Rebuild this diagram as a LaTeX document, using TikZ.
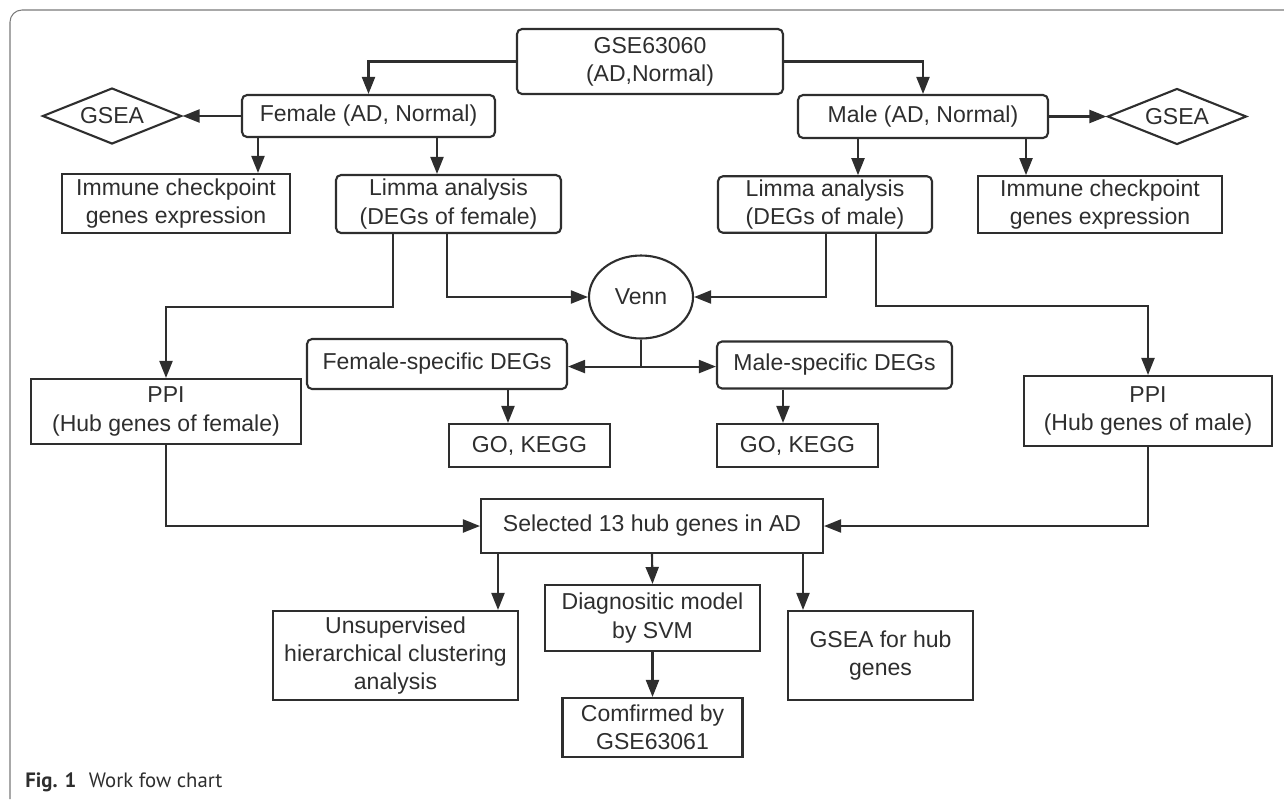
\documentclass[tikz,border=0pt]{standalone}
\usepackage{fontspec}
\setmainfont{Liberation Sans}
\newfontfamily\capfont{PT Sans}
\usetikzlibrary{shapes.geometric, arrows.meta, positioning}

\definecolor{inkgray}{HTML}{2E2E2E}
\definecolor{framegray}{HTML}{7A7A7A}

\begin{document}
\begin{tikzpicture}[
    x=0.02cm, y=-0.02cm,
    base/.style={draw=inkgray, line width=1.2pt, align=center, text=inkgray, inner sep=2pt, font=\fontsize{13.1}{16}\selectfont},
    box/.style={base, rectangle, rounded corners=0.1cm},
    sqbox/.style={base, rectangle},
    gsea/.style={base, diamond, aspect=2.5, minimum width=2.78cm, minimum height=1.12cm, inner sep=0pt},
    vennnode/.style={base, ellipse, minimum width=2.08cm, minimum height=1.66cm},
    arrow/.style={draw=inkgray, line width=1.2pt, -{Triangle[length=0.34cm, width=0.26cm]}},
    line/.style={draw=inkgray, line width=1.2pt}
]
\useasboundingbox (0,0) rectangle (1284,799);

% Frame
\draw[framegray, line width=0.6pt, rounded corners=0.24cm] (10,799) -- (10,10) -- (1284,10);

% Nodes
\node[box, minimum width=5.32cm, minimum height=1.3cm] (gse) at (650,61.5) {GSE63060\\(AD,Normal)};
\node[box, minimum width=5.06cm, minimum height=0.84cm] (female) at (368.5,116) {Female (AD, Normal)};
\node[box, minimum width=5.0cm, minimum height=0.86cm] (male) at (923,116.5) {Male (AD, Normal)};
\node[gsea] (gseaF) at (112,116) {GSEA};
\node[gsea] (gseaM) at (1177,116.5) {GSEA};
\node[sqbox, minimum width=4.56cm, minimum height=1.18cm] (immF) at (176,203.5) {Immune checkpoint\\genes expression};
\node[box, minimum width=4.5cm, minimum height=1.16cm] (limF) at (448.5,204) {Limma analysis\\(DEGs of female)};
\node[box, minimum width=4.28cm, minimum height=1.12cm] (limM) at (825,204.5) {Limma analysis\\(DEGs of male)};
\node[sqbox, minimum width=4.88cm, minimum height=1.12cm] (immM) at (1100,204.5) {Immune checkpoint\\genes expression};
\node[vennnode] (venn) at (641,297) {Venn};
\node[box, minimum width=5.2cm, minimum height=1.0cm] (fspec) at (437,364) {Female-specific DEGs};
\node[box, minimum width=4.7cm, minimum height=0.94cm] (mspec) at (834.5,365) {Male-specific DEGs};
\node[sqbox, minimum width=3.22cm, minimum height=0.86cm] (goF) at (529.5,445.5) {GO, KEGG};
\node[sqbox, minimum width=3.22cm, minimum height=0.86cm] (goM) at (797.5,445.5) {GO, KEGG};
\node[sqbox, minimum width=5.4cm, minimum height=1.3cm] (ppiF) at (166,411.5) {PPI\\(Hub genes of female)};
\node[sqbox, minimum width=4.96cm, minimum height=1.4cm] (ppiM) at (1148,411) {PPI\\(Hub genes of male)};
\node[sqbox, minimum width=6.84cm, minimum height=1.08cm] (sel) at (652,526) {Selected 13 hub genes in AD};
\node[sqbox, minimum width=4.9cm, minimum height=1.78cm] (unsup) at (395.5,655.5) {Unsupervised\\hierarchical clustering\\analysis};
\node[sqbox, minimum width=4.3cm, minimum height=1.32cm] (diag) at (652.5,618) {Diagnositic model\\by SVM};
\node[sqbox, minimum width=3.6cm, minimum height=1.18cm] (conf) at (652.5,727.5) {Comfirmed by\\GSE63061};
\node[sqbox, minimum width=3.7cm, minimum height=1.78cm] (gseaH) at (880.5,655.5) {GSEA for hub\\genes};

% Caption
\node[anchor=west, inner sep=0, text=inkgray, font=\capfont\fontsize{11.8}{14}\selectfont] (cap) at (25,782) {\textbf{Fig. 1}\hspace{0.6em}Work fow chart};

% Arrows
\draw[arrow] (gse.west) -| (female.north);
\draw[arrow] (gse.east) -| (male.north);
\draw[arrow] (female.west) -- (gseaF.east);
\draw[arrow] (male.east) -- (gseaM.west);
\draw[arrow] (female.south -| 258,0) -- (immF.north -| 258,0);
\draw[arrow] (female.south -| 437,0) -- (limF.north -| 437,0);
\draw[arrow] (male.south -| 858,0) -- (limM.north -| 858,0);
\draw[arrow] (male.south -| 1026,0) -- (immM.north -| 1026,0);

\draw[arrow] (limF.south -| 393,0) -- ++(0,73) -| (ppiF.north);
\draw[arrow] (limF.south -| 447,0) |- (venn.west);
\draw[arrow] (limM.south -| 826,0) |- (venn.east);
\draw[arrow] (limM.south -| 876,0) -- ++(0,72) -| (ppiM.north);

\draw[line] (venn.south) -- ++(0,27) coordinate (vsplit);
\draw[arrow] (vsplit) -- (vsplit -| fspec.east);
\draw[arrow] (vsplit) -- (vsplit -| mspec.west);
\draw[arrow] (fspec.south -| 508,0) -- (goF.north -| 508,0);
\draw[arrow] (mspec.south -| 783,0) -- (goM.north -| 783,0);

\draw[arrow] (ppiF.south) |- (sel.west);
\draw[arrow] (ppiM.south) |- (sel.east);
\draw[arrow] (sel.south -| 498,0) -- (unsup.north -| 498,0);
\draw[arrow] (sel.south) -- (diag.north);
\draw[arrow] (sel.south -| 803,0) -- (gseaH.north -| 803,0);
\draw[arrow] (diag.south) -- (conf.north);

\end{tikzpicture}
\end{document}
